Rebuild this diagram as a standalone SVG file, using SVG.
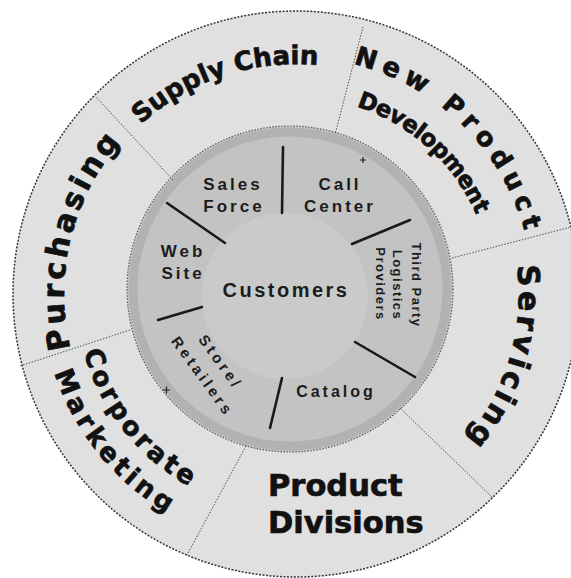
<svg xmlns="http://www.w3.org/2000/svg" width="571" height="578" viewBox="0 0 571 578">
<style>
.big{font-family:"DejaVu Sans","Liberation Sans",sans-serif;font-weight:bold;fill:#111;stroke:#111;stroke-width:0.7;}
.sm{font-family:"Liberation Sans",Arial,sans-serif;font-weight:bold;fill:#1c1c1c;}
.odiv{stroke:#505050;stroke-width:1;stroke-dasharray:1.5 1.5;fill:none;}
.idiv{stroke:#1a1a1a;stroke-width:2.6;stroke-linecap:round;fill:none;}
.mark{stroke:#222;stroke-width:1.2;fill:none;}
</style>
<defs>
<path id="pPurch" d="M 70.9 350.1 A 232 232 0 0 1 123.6 138.8"/>
<path id="pSupply" d="M 133.4 131.4 A 232 232 0 0 1 328.0 66.2"/>
<path id="pNew" d="M 353.3 64.0 A 237 237 0 0 1 526.0 236.7"/>
<path id="pDev" d="M 353.6 105.6 A 197 197 0 0 1 477.3 217.0"/>
<path id="pServ" d="M 516.9 265.0 A 223 223 0 0 1 463.0 441.8"/>
<path id="pCorp" d="M 83.5 351.0 A 220 220 0 0 0 192.7 488.3"/>
<path id="pMark" d="M 54.4 372.5 A 254 254 0 0 0 170.9 515.1"/>
</defs>
<rect width="571" height="578" fill="#ffffff"/>
<g id="rings">
<circle cx="296" cy="294" r="283" fill="#e0e0e0" stroke="#333" stroke-width="1.5" stroke-dasharray="2 1.5"/>
<circle cx="290" cy="289" r="163" fill="#c3c3c3" stroke="#5a5a5a" stroke-width="1.2" stroke-dasharray="1.5 1.5"/>
<circle cx="290" cy="289" r="157" fill="none" stroke="#b2b2b2" stroke-width="9"/>
<circle cx="285" cy="296" r="83" fill="#cacaca"/>
</g>
<g id="connectors">
<line class="odiv" x1="173" y1="180" x2="96" y2="97"/>
<line class="odiv" x1="335.5" y1="132.6" x2="363" y2="27"/>
<line class="odiv" x1="452" y1="258" x2="571" y2="227"/>
<line class="odiv" x1="400" y1="408" x2="493" y2="498"/>
<line class="odiv" x1="246" y1="446" x2="187" y2="555"/>
<line class="odiv" x1="130" y1="330" x2="20" y2="366"/>
<line class="idiv" x1="283" y1="147" x2="282" y2="213"/>
<line class="idiv" x1="410" y1="220" x2="352" y2="244"/>
<line class="idiv" x1="355" y1="342" x2="415" y2="377"/>
<line class="idiv" x1="282" y1="378" x2="270" y2="428"/>
<line class="idiv" x1="202" y1="307" x2="158" y2="320"/>
<line class="idiv" x1="167" y1="203" x2="225" y2="243"/>
</g>
<g id="marks">
<path class="mark" d="M 360 160 L 366 160 M 363 157 L 363 163"/>
<path class="mark" d="M 163 390 L 170 390 M 166.5 386.5 L 166.5 393.5"/>
</g>
<g id="purchasing"><text class="big" font-size="30" letter-spacing="3.5"><textPath href="#pPurch" startOffset="50%" text-anchor="middle">Purchasing</textPath></text></g>
<g id="supply-chain"><text class="big" font-size="26"><textPath href="#pSupply" startOffset="50%" text-anchor="middle">Supply Chain</textPath></text></g>
<g id="new-product-development">
<text class="big" font-size="26" letter-spacing="6.3"><textPath href="#pNew" startOffset="50%" text-anchor="middle">New Product</textPath></text>
<text class="big" font-size="23" letter-spacing="-0.6"><textPath href="#pDev" startOffset="50%" text-anchor="middle">Development</textPath></text>
</g>
<g id="servicing"><text class="big" font-size="30" letter-spacing="3.5"><textPath href="#pServ" startOffset="50%" text-anchor="middle">Servicing</textPath></text></g>
<g id="product-divisions">
<text class="big" font-size="30.5" x="268" y="496">Product</text>
<text class="big" font-size="30.5" x="268" y="533">Divisions</text>
</g>
<g id="corporate-marketing">
<text class="big" font-size="26" letter-spacing="3.6"><textPath href="#pCorp" startOffset="50%" text-anchor="middle">Corporate</textPath></text>
<text class="big" font-size="26" letter-spacing="4.3"><textPath href="#pMark" startOffset="50%" text-anchor="middle">Marketing</textPath></text>
</g>
<g id="customers"><text class="sm" font-size="20" letter-spacing="2.5" x="286" y="297" text-anchor="middle">Customers</text></g>
<g id="sales-force">
<text class="sm" font-size="17" letter-spacing="3" x="233" y="190" text-anchor="middle">Sales</text>
<text class="sm" font-size="17" letter-spacing="3" x="234" y="212" text-anchor="middle">Force</text>
</g>
<g id="call-center">
<text class="sm" font-size="17" letter-spacing="3" x="340" y="190" text-anchor="middle">Call</text>
<text class="sm" font-size="17" letter-spacing="3" x="340" y="212" text-anchor="middle">Center</text>
</g>
<g id="third-party-logistics">
<text class="sm" font-size="13" letter-spacing="1.5" text-anchor="middle" transform="translate(412 285) rotate(90)">Third Party</text>
<text class="sm" font-size="13" letter-spacing="1.5" text-anchor="middle" transform="translate(393 285) rotate(90)">Logistics</text>
<text class="sm" font-size="13" letter-spacing="1.5" text-anchor="middle" transform="translate(376 284) rotate(90)">Providers</text>
</g>
<g id="catalog"><text class="sm" font-size="16" letter-spacing="3" x="336" y="397" text-anchor="middle">Catalog</text></g>
<g id="store-retailers" transform="translate(211 368) rotate(54)">
<text class="sm" font-size="15" letter-spacing="3.5" x="1" y="-6" text-anchor="middle">Store/</text>
<text class="sm" font-size="15" letter-spacing="3.5" x="2" y="17" text-anchor="middle">Retailers</text>
</g>
<g id="web-site">
<text class="sm" font-size="17" letter-spacing="3" x="183" y="257" text-anchor="middle">Web</text>
<text class="sm" font-size="17" letter-spacing="3" x="183" y="279" text-anchor="middle">Site</text>
</g>
</svg>
